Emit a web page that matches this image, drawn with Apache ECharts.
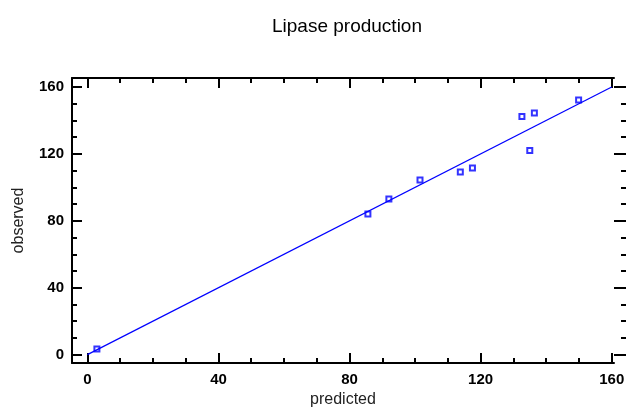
<!DOCTYPE html>
<html>
<head>
<meta charset="utf-8">
<script src="https://cdn.jsdelivr.net/npm/echarts@6/dist/echarts.min.js"></script>
<style>
  html, body { margin: 0; padding: 0; background: #fff; }
  #chart { width: 627px; height: 409px; }
</style>
</head>
<body>
<div id="chart"></div>
<script>
  // observed vs predicted values
  var predicted = [2.9, 85.6, 92.0, 101.5, 113.8, 117.5, 132.6, 135.0, 136.4, 149.9];
  var observed = [3.4, 84.1, 93.1, 104.4, 109.2, 111.6, 142.4, 122.1, 144.5, 152.2];
  // fitted line end points
  var lineX = [0, 160];
  var lineY = [0, 160];
  // tick values
  var majorTicks = [0, 40, 80, 120, 160];
  var minorTicks = [10, 20, 30, 50, 60, 70, 90, 100, 110, 130, 140, 150];

  var xMin = -4.7, xMax = 160.7;
  var yMin = -5, yMax = 165.4;
  var font = '"Liberation Sans", Arial, sans-serif';

  var chart = echarts.init(document.getElementById('chart'));

  function xAx(grid, pos, ticks, len, labels, showLine) {
    return {
      type: 'value', gridIndex: grid, position: pos, min: xMin, max: xMax,
      splitLine: { show: false },
      axisLine: { show: showLine, onZero: false, lineStyle: { color: '#000', width: 2 } },
      axisTick: { show: true, inside: true, length: len, customValues: ticks,
        lineStyle: { color: '#000', width: 2 } },
      axisLabel: labels ? {
        customValues: majorTicks, margin: 9, color: '#000',
        fontFamily: font, fontWeight: 'bold', fontSize: 15
      } : { show: false }
    };
  }

  function yAx(grid, pos, ticks, len, labels, showLine, offset) {
    return {
      type: 'value', gridIndex: grid, position: pos, min: yMin, max: yMax,
      offset: offset || 0,
      splitLine: { show: false },
      axisLine: { show: showLine, onZero: false, lineStyle: { color: '#000', width: 2 } },
      axisTick: { show: true, inside: true, length: len, customValues: ticks,
        lineStyle: { color: '#000', width: 2 } },
      axisLabel: labels ? {
        customValues: majorTicks, margin: 8, color: '#000',
        fontFamily: font, fontWeight: 'bold', fontSize: 15
      } : { show: false }
    };
  }

  var gridBox = { left: 72, right: 13, top: 78, bottom: 46, outerBoundsMode: 'none', containLabel: false };

  var xAxes = [
    xAx(0, 'bottom', majorTicks, 10, true, true),
    xAx(0, 'top', majorTicks, 10, false, true),
    xAx(1, 'bottom', minorTicks, 5, false, false),
    xAx(1, 'top', minorTicks, 5, false, false)
  ];
  xAxes[0].name = 'predicted';
  xAxes[0].nameLocation = 'middle';
  xAxes[0].nameGap = 29;
  xAxes[0].nameTextStyle = { color: '#222', fontFamily: font, fontSize: 16 };

  var yAxes = [
    yAx(0, 'left', majorTicks, 10, true, true),
    yAx(0, 'right', majorTicks, 12, false, false, 12),
    yAx(1, 'left', minorTicks, 5, false, false),
    yAx(1, 'right', minorTicks, 5, false, false, 12)
  ];
  yAxes[0].name = 'observed';
  yAxes[0].nameLocation = 'middle';
  yAxes[0].nameGap = 45;
  yAxes[0].nameTextStyle = { color: '#222', fontFamily: font, fontSize: 16 };

  var points = predicted.map(function (p, i) { return [p, observed[i]]; });
  var fit = lineX.map(function (x, i) { return [x, lineY[i]]; });

  chart.setOption({
    animation: false,
    backgroundColor: '#fff',
    title: {
      text: 'Lipase production', left: 272, top: 17, padding: 0,
      textStyle: { color: '#000', fontFamily: font, fontWeight: 'normal', fontSize: 19 }
    },
    grid: [
      Object.assign({}, gridBox),
      Object.assign({}, gridBox)
    ],
    xAxis: xAxes,
    yAxis: yAxes,
    series: [
      {
        type: 'line', xAxisIndex: 0, yAxisIndex: 0, data: fit,
        symbol: 'none', lineStyle: { color: '#0000ff', width: 1.2 }
      },
      {
        type: 'scatter', xAxisIndex: 0, yAxisIndex: 0, data: points,
        symbol: 'emptyRect', symbolSize: 5,
        itemStyle: { color: '#0000ff', borderColor: '#0000ff', borderWidth: 1 }
      }
    ]
  });
</script>
</body>
</html>
